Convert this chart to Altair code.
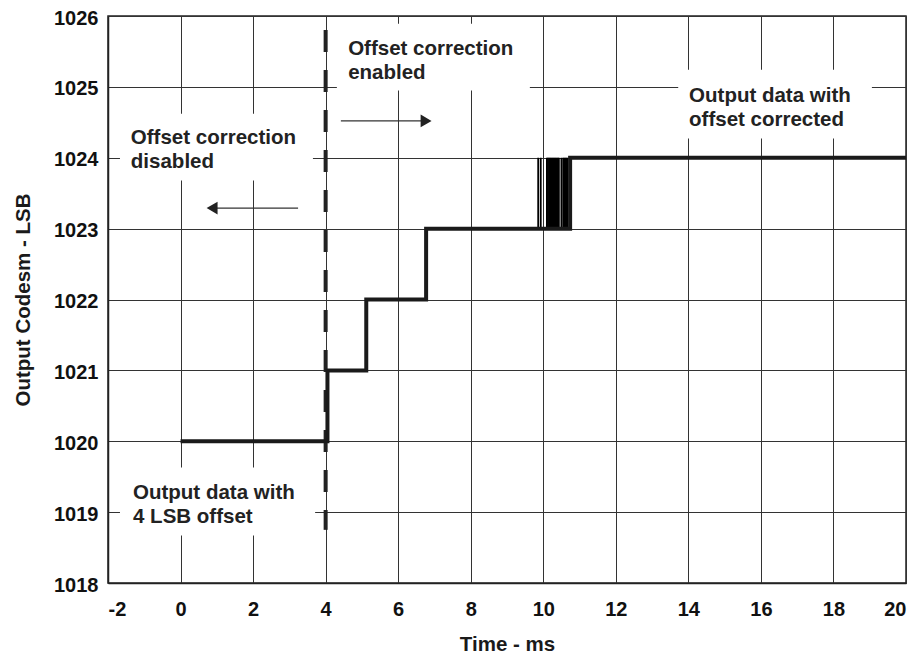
import altair as alt
import pandas as pd

# Main step trace (step-after)
step_t = [0, 4.05, 5.12, 6.77, 10.74, 20]
step_code = [1020, 1021, 1022, 1023, 1024, 1024]

# Toggling between 1023 and 1024 during settling
toggle_t = [9.86, 9.93, 10.10, 10.13, 10.16, 10.19, 10.22, 10.25, 10.28, 10.31,
            10.34, 10.37, 10.40, 10.43, 10.50, 10.55, 10.58, 10.61, 10.64, 10.67, 10.74]

# Vertical dashed marker at 4 ms
marker_t = [4.0]
marker_top = [1026]
marker_bottom = [1018.75]

# Annotations
ann_text = [["Offset correction", "enabled"],
            ["Offset correction", "disabled"],
            ["Output data with", "offset corrected"],
            ["Output data with", "4 LSB offset"]]
ann_x = [4.62, -1.37, 14.02, -1.31]
ann_y = [1025.45, 1024.19, 1024.79, 1019.19]

# White boxes behind annotations
box_x1 = [4.31, -1.67, 13.72, -1.67]
box_x2 = [9.63, 3.65, 19.06, 3.71]
box_y1 = [1025.89, 1024.62, 1025.24, 1019.63]
box_y2 = [1024.95, 1023.68, 1024.27, 1018.67]

# Arrows
arrow_x1 = [4.42, 3.24]
arrow_x2 = [6.77, 0.87]
arrow_y = [1024.52, 1023.29]
arrow_shape = ["triangle-right", "triangle-left"]

x_ticks = list(range(-2, 21, 2))
y_ticks = list(range(1018, 1027))

FONT = "Liberation Sans"
INK = "#1a1a1a"

xs = alt.Scale(domain=[-2, 20], nice=False, zero=False)
ys = alt.Scale(domain=[1018, 1026], nice=False, zero=False)

step_df = pd.DataFrame({"t": step_t, "code": step_code})
toggle_df = pd.DataFrame({"t": toggle_t, "lo": [1023] * len(toggle_t), "hi": [1024] * len(toggle_t)})
marker_df = pd.DataFrame({"t": marker_t, "top": marker_top, "bottom": marker_bottom})
ann_df = pd.DataFrame({"text": ann_text, "x": ann_x, "y": ann_y})
box_df = pd.DataFrame({"x1": box_x1, "x2": box_x2, "y1": box_y1, "y2": box_y2})
arrow_df = pd.DataFrame({"x1": arrow_x1, "x2": arrow_x2, "y": arrow_y, "shape": arrow_shape})

base_x = alt.X("t:Q", scale=xs, title="Time - ms",
               axis=alt.Axis(values=x_ticks, labelExpr="'' + datum.value"))
base_y = alt.Y("code:Q", scale=ys, title="Output Codesm - LSB",
               axis=alt.Axis(values=y_ticks, labelExpr="'' + datum.value", labelOffset=2))

grid = alt.Chart(step_df).mark_line(opacity=0).encode(x=base_x, y=base_y)

boxes = alt.Chart(box_df).mark_rect(fill="white").encode(
    x=alt.X("x1:Q", scale=xs), x2="x2:Q",
    y=alt.Y("y1:Q", scale=ys), y2="y2:Q")

marker = alt.Chart(marker_df).mark_rule(
    color="#222222", strokeWidth=4, strokeDash=[22, 18], strokeDashOffset=26
).encode(x=alt.X("t:Q", scale=xs), y=alt.Y("top:Q", scale=ys), y2="bottom:Q")

toggles = alt.Chart(toggle_df).mark_rule(color="#000000", strokeWidth=1.8).encode(
    x=alt.X("t:Q", scale=xs), y=alt.Y("lo:Q", scale=ys), y2="hi:Q")

step = alt.Chart(step_df).mark_line(
    interpolate="step-after", color=INK, strokeWidth=4
).encode(x=alt.X("t:Q", scale=xs), y=alt.Y("code:Q", scale=ys))

texts = alt.Chart(ann_df).mark_text(
    align="left", baseline="alphabetic", font=FONT, fontWeight="bold",
    fontSize=20.5, lineHeight=24, color="#222222"
).encode(x=alt.X("x:Q", scale=xs), y=alt.Y("y:Q", scale=ys), text="text")

arrow_lines = alt.Chart(arrow_df).mark_rule(color="#333333", strokeWidth=1.3).encode(
    x=alt.X("x1:Q", scale=xs), x2="x2:Q", y=alt.Y("y:Q", scale=ys))

arrow_heads = alt.Chart(arrow_df).mark_point(
    filled=True, color="#222222", size=160, opacity=1
).encode(
    x=alt.X("x2:Q", scale=xs), y=alt.Y("y:Q", scale=ys),
    shape=alt.Shape("shape:N", scale=None, legend=None))

chart = alt.layer(
    grid, boxes, marker, toggles, step, texts, arrow_lines, arrow_heads
).properties(
    width=798, height=567,
    autosize=alt.AutoSizeParams(type="none"),
    padding={"left": 100, "top": 8, "right": 5, "bottom": 70},
).configure_view(
    stroke="#222222", strokeWidth=1.5
).configure_axis(
    labelFont=FONT, labelFontWeight="bold", labelFontSize=20, labelColor="#111111",
    titleFont=FONT, titleFontWeight="bold", titleFontSize=20.5, titleColor="#1a1a1a",
    grid=True, gridColor="#333333", gridWidth=1, gridOpacity=1,
    domainColor="#222222", domainWidth=1.5, ticks=False,
).configure_axisX(
    labelPadding=16, titlePadding=15
).configure_axisY(
    labelPadding=10, titlePadding=20
)

chart.save("out.html", embed_options={"renderer": "svg", "actions": False})
